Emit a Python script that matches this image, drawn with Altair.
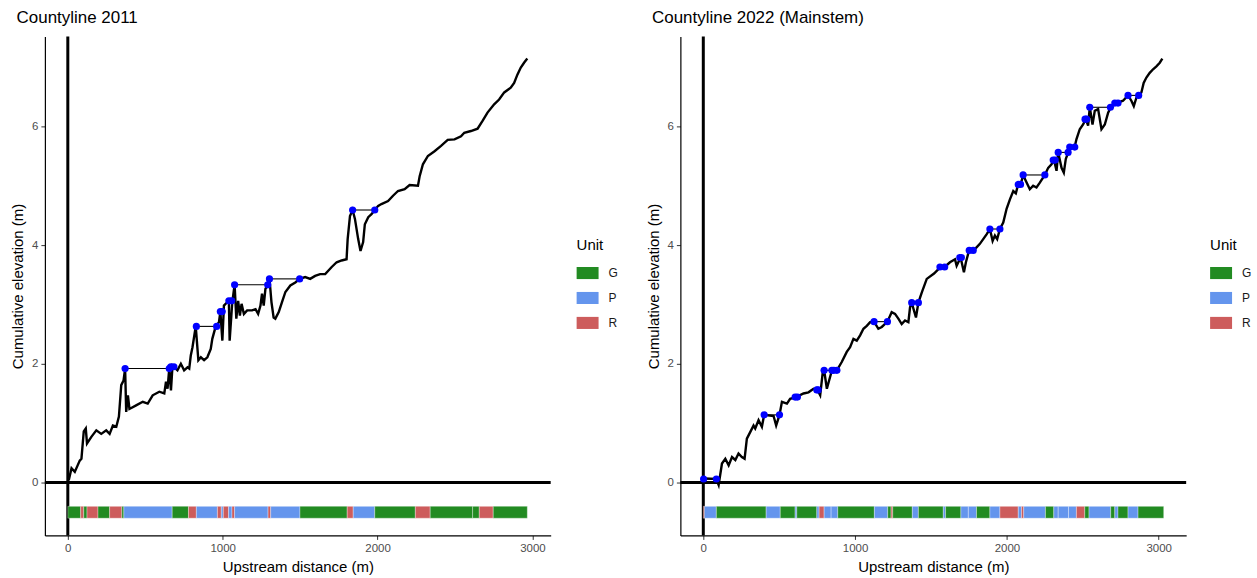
import altair as alt
import pandas as pd

# ---- Longitudinal profile, Countyline 2011 ----
left_dist = [6, 24, 45, 77, 88, 103, 116, 124, 152, 184, 216, 248, 270, 291, 313, 330, 345, 360, 370,
             377, 388, 398, 441, 484, 516, 548, 591, 623, 634, 644, 655, 666, 676, 708, 730, 751, 773, 784,
             794, 805, 826, 843, 859, 880, 901, 923, 933, 955, 976, 985, 998, 1008, 1030, 1040, 1045,
             1062, 1077, 1088, 1100, 1111, 1122, 1137, 1158, 1190, 1212, 1229, 1244, 1254, 1265, 1276,
             1291, 1302, 1315, 1329, 1340, 1362, 1383, 1405, 1437, 1469, 1497, 1533, 1565, 1597, 1629,
             1662, 1704, 1736, 1768, 1800, 1807, 1822, 1839, 1854, 1875, 1890, 1907, 1918, 1940, 1961,
             1982, 2004, 2025, 2068, 2100, 2132, 2175, 2207, 2261, 2272, 2293, 2325, 2368, 2410, 2453,
             2497, 2539, 2560, 2603, 2646, 2678, 2710, 2753, 2785, 2818, 2860, 2882, 2903, 2925, 2946, 2967]
left_elev = [0.04, 0.24, 0.18, 0.37, 0.40, 0.86, 0.91, 0.66, 0.77, 0.88, 0.82, 0.88, 0.82, 0.96, 0.94,
             1.11, 1.64, 1.72, 1.92, 1.19, 1.47, 1.24, 1.30, 1.36, 1.33, 1.47, 1.53, 1.50, 1.70, 1.58,
             1.92, 1.55, 1.97, 1.89, 2.00, 1.89, 1.94, 1.92, 2.14, 2.28, 2.63, 2.06, 2.11, 2.06, 2.11,
             2.25, 2.42, 2.63, 2.70, 2.88, 2.39, 2.98, 3.04, 3.06, 2.39, 3.04, 3.33, 2.76, 3.06, 2.81,
             3.01, 2.84, 2.90, 2.90, 2.92, 2.84, 2.98, 3.18, 2.98, 3.26, 3.33, 3.44, 3.04, 2.78, 2.76,
             2.87, 3.04, 3.21, 3.32, 3.37, 3.43, 3.46, 3.43, 3.48, 3.51, 3.51, 3.63, 3.71, 3.74, 3.76,
             4.10, 4.49, 4.59, 4.44, 4.10, 3.90, 4.05, 4.35, 4.47, 4.52, 4.59, 4.66, 4.69, 4.74, 4.83,
             4.91, 4.94, 5.01, 5.00, 5.16, 5.36, 5.50, 5.58, 5.67, 5.77, 5.78, 5.83, 5.89, 5.92, 5.96,
             6.09, 6.23, 6.37, 6.45, 6.57, 6.65, 6.73, 6.87, 6.99, 7.07, 7.14]

# residual pool depths: start distance, end distance, crest elevation
left_seg_start = [370, 665, 830, 985, 1040, 1077, 1302, 1839]
left_seg_end = [655, 685, 961, 997, 1058, 1291, 1497, 1982]
left_seg_elev = [1.92, 1.95, 2.63, 2.88, 3.06, 3.33, 3.43, 4.59]

# habitat units along the reach
left_unit_start = [0, 83, 103, 124, 195, 270, 349, 362, 674, 779, 830, 966, 991, 1004, 1038, 1060,
                   1077, 1293, 1310, 1499, 1804, 1843, 1982, 2244, 2340, 2614, 2657, 2747]
left_unit_end = [83, 103, 124, 195, 270, 349, 362, 674, 779, 830, 966, 991, 1004, 1038, 1060, 1077,
                 1293, 1310, 1499, 1804, 1843, 1982, 2244, 2340, 2614, 2657, 2747, 2967]
left_unit = ["G", "R", "G", "R", "G", "R", "G", "P", "G", "R", "P", "R", "P", "R", "P", "R",
             "P", "R", "P", "G", "R", "P", "G", "R", "G", "G", "R", "G"]

# ---- Longitudinal profile, Countyline 2022 (Mainstem) ----
right_dist = [2, 86, 101, 123, 145, 167, 189, 211, 232, 254, 272, 287, 309, 331, 342, 364, 386, 401,
              463, 480, 502, 518, 551, 572, 612, 660, 693, 726, 752, 770, 787, 796, 814, 847, 880, 912,
              945, 967, 989, 1011, 1033, 1055, 1077, 1099, 1125, 1153, 1176, 1213, 1241, 1263, 1285,
              1307, 1329, 1351, 1362, 1373, 1401, 1417, 1439, 1472, 1520, 1559, 1590, 1625, 1658, 1669,
              1695, 1717, 1730, 1752, 1778, 1800, 1822, 1844, 1866, 1888, 1906, 1921, 1936, 1954, 1976,
              1998, 2020, 2042, 2059, 2075, 2090, 2107, 2125, 2151, 2173, 2195, 2217, 2250, 2272, 2294,
              2311, 2327, 2338, 2360, 2375, 2388, 2403, 2414, 2447, 2458, 2480, 2502, 2520, 2535, 2546,
              2564, 2579, 2601, 2623, 2645, 2667, 2682, 2711, 2732, 2765, 2798, 2820, 2836, 2853, 2868,
              2886, 2901, 2919, 2941, 2963, 2985, 3007, 3024]
right_elev = [0.07, 0.06, -0.04, 0.32, 0.40, 0.29, 0.43, 0.38, 0.49, 0.43, 0.40, 0.74, 0.85, 0.96,
              0.91, 1.05, 0.94, 1.14, 1.12, 0.96, 1.14, 1.36, 1.33, 1.41, 1.44, 1.50, 1.52, 1.58, 1.56,
              1.47, 1.86, 1.89, 1.58, 1.89, 1.89, 2.03, 2.20, 2.28, 2.42, 2.39, 2.48, 2.59, 2.64, 2.70,
              2.71, 2.59, 2.62, 2.71, 2.87, 2.84, 2.76, 2.67, 2.73, 2.70, 2.95, 3.03, 2.78, 3.03, 3.20,
              3.43, 3.52, 3.62, 3.63, 3.71, 3.76, 3.65, 3.79, 3.54, 3.71, 3.92, 3.90, 3.96, 4.02, 4.10,
              4.18, 4.27, 4.07, 4.16, 4.10, 4.27, 4.38, 4.61, 4.77, 4.91, 4.87, 5.03, 5.01, 5.18, 5.08,
              4.94, 5.00, 4.97, 5.05, 5.18, 5.30, 5.36, 5.43, 5.25, 5.56, 5.30, 5.22, 5.45, 5.55, 5.64,
              5.66, 5.78, 5.95, 6.03, 6.12, 6.01, 6.32, 6.03, 6.26, 6.29, 5.95, 6.03, 6.23, 6.31, 6.39,
              6.40, 6.43, 6.52, 6.43, 6.34, 6.48, 6.52, 6.57, 6.73, 6.82, 6.90, 6.96, 7.01, 7.07, 7.14]

right_seg_start = [2, 401, 605, 748, 796, 860, 1125, 1373, 1559, 1690, 1752, 1888, 2075, 2107, 2305,
                   2338, 2414, 2515, 2546, 2711, 2798]
right_seg_end = [86, 502, 620, 757, 847, 880, 1213, 1417, 1590, 1700, 1778, 1954, 2090, 2250, 2318,
                 2403, 2447, 2525, 2682, 2732, 2868]
right_seg_elev = [0.06, 1.14, 1.44, 1.56, 1.89, 1.89, 2.71, 3.03, 3.63, 3.79, 3.91, 4.27, 5.02, 5.18,
                  5.43, 5.56, 5.65, 6.12, 6.32, 6.39, 6.52]

right_unit_start = [0, 8, 86, 414, 507, 605, 616, 748, 763, 796, 842, 886, 1127, 1215, 1237, 1248,
                    1377, 1417, 1581, 1596, 1697, 1746, 1800, 1888, 1954, 2075, 2096, 2111, 2254, 2309,
                    2338, 2406, 2458, 2513, 2541, 2684, 2711, 2732, 2798, 2864]
right_unit_end = [8, 86, 414, 507, 605, 616, 748, 763, 796, 842, 886, 1127, 1215, 1237, 1248, 1377,
                  1417, 1581, 1596, 1697, 1746, 1800, 1888, 1954, 2075, 2096, 2111, 2254, 2309, 2338,
                  2406, 2458, 2513, 2541, 2684, 2711, 2732, 2798, 2864, 3033]
right_unit = ["R", "P", "G", "P", "G", "P", "G", "P", "R", "P", "P", "G", "P", "G", "R", "G",
              "P", "G", "P", "G", "P", "P", "G", "P", "R", "P", "R", "P", "G", "P",
              "P", "P", "R", "G", "P", "G", "P", "G", "P", "G"]

unit_names = ["G", "P", "R"]
unit_colors = ["#228B22", "#6495ED", "#CD5C5C"]
x_ticks = [0, 1000, 2000, 3000]
y_ticks = [0, 2, 4, 6]

FONT = "Liberation Sans"
W, H = 507, 500
STRIP_LO, STRIP_HI = -0.6, -0.4


def axis(values, title):
    return alt.Axis(values=values, title=title, format="d", grid=False, domainColor="black",
                    domainWidth=1.2, tickColor="#333333", tickSize=4, labelColor="#4D4D4D",
                    labelFontSize=11.5, labelFont=FONT, labelPadding=3, titleFont=FONT,
                    titleFontSize=15, titleFontWeight="normal", titleColor="black", titlePadding=6)


def panel(title, dist, elev, s_start, s_end, s_elev, u_start, u_end, u_kind, x_dom, y_dom, leg_x):
    profile = pd.DataFrame({"dist": dist, "elev": elev})
    segs = pd.DataFrame({"x1": s_start, "x2": s_end, "y": s_elev})
    pts = pd.DataFrame({"dist": list(s_start) + list(s_end), "elev": list(s_elev) + list(s_elev)})
    units = pd.DataFrame({"x1": u_start, "x2": u_end, "Unit": u_kind,
                          "lo": [STRIP_LO] * len(u_kind), "hi": [STRIP_HI] * len(u_kind)})

    xs = alt.Scale(domain=x_dom, nice=False, zero=False)
    ys = alt.Scale(domain=y_dom, nice=False, zero=False)
    x_axis = axis(x_ticks, "Upstream distance (m)")
    y_axis = axis(y_ticks, "Cumulative elevation (m)")

    zero_h = alt.Chart(pd.DataFrame({"v": [0]})).mark_rule(color="black", strokeWidth=3).encode(
        y=alt.Y("v:Q", scale=ys, axis=y_axis))
    zero_v = alt.Chart(pd.DataFrame({"v": [0]})).mark_rule(color="black", strokeWidth=3).encode(
        x=alt.X("v:Q", scale=xs, axis=x_axis))

    strip = alt.Chart(units).mark_rect(stroke="white", strokeWidth=0.6, strokeOpacity=0.55).encode(
        x=alt.X("x1:Q", scale=xs, axis=x_axis), x2="x2:Q",
        y=alt.Y("lo:Q", scale=ys, axis=y_axis), y2="hi:Q",
        color=alt.Color("Unit:N",
                        scale=alt.Scale(domain=unit_names, range=unit_colors),
                        legend=alt.Legend(
                            title="Unit", orient="none", legendX=leg_x, legendY=202,
                            symbolType="M-1,-0.55L1,-0.55L1,0.55L-1,0.55Z",
                            symbolSize=484, symbolStrokeWidth=0, symbolOpacity=1,
                            rowPadding=7, labelFontSize=12, labelColor="#1a1a1a",
                            labelOffset=10, titleFontSize=15, titleFontWeight="normal",
                            titleColor="black", titlePadding=9, labelFont=FONT, titleFont=FONT)))

    line = alt.Chart(profile).mark_line(color="black", strokeWidth=2.4).encode(
        x=alt.X("dist:Q", scale=xs, axis=x_axis), y=alt.Y("elev:Q", scale=ys, axis=y_axis),
        order="dist:Q")

    seg = alt.Chart(segs).mark_rule(color="black", strokeWidth=1.1).encode(
        x=alt.X("x1:Q", scale=xs, axis=x_axis), x2="x2:Q",
        y=alt.Y("y:Q", scale=ys, axis=y_axis))

    dots = alt.Chart(pts).mark_circle(color="#0000FF", size=52, opacity=1).encode(
        x=alt.X("dist:Q", scale=xs, axis=x_axis), y=alt.Y("elev:Q", scale=ys, axis=y_axis))

    return alt.layer(zero_h, zero_v, strip, line, seg, dots).properties(
        width=W, height=H,
        title=alt.TitleParams(title, anchor="start", frame="bounds", fontSize=17, dx=6,
                              fontWeight="normal", font=FONT, color="black", offset=8))


left = panel("Countyline 2011", left_dist, left_elev, left_seg_start, left_seg_end, left_seg_elev,
             left_unit_start, left_unit_end, left_unit, [-148, 3118], [-0.89, 7.51], W + 26)
right = panel("Countyline 2022 (Mainstem)", right_dist, right_elev, right_seg_start, right_seg_end,
              right_seg_elev, right_unit_start, right_unit_end, right_unit, [-151, 3181],
              [-0.89, 7.51], W + 24)

chart = alt.hconcat(left, right, spacing=27).resolve_scale(color="independent").properties(
    padding={"left": 10, "top": 8, "right": 5, "bottom": 5}, background="white"
).configure_view(stroke=None)

chart.save("out.html", embed_options={"renderer": "svg", "actions": False})
